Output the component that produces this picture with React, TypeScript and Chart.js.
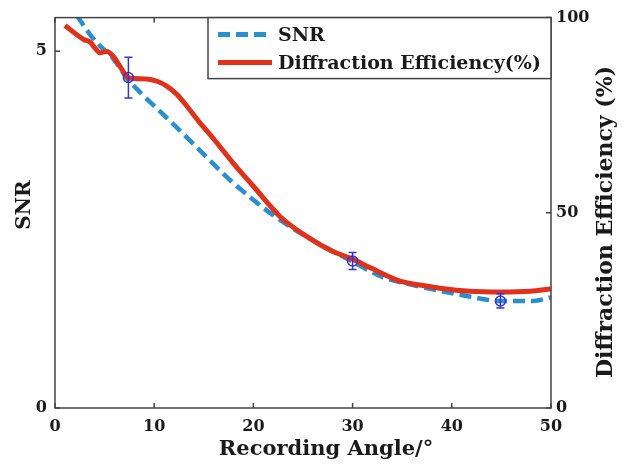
import React, { useEffect, useRef } from "react";
import { Chart, registerables } from "chart.js";
Chart.register(...registerables);

// ---- data ----
const snrAngles = [2.2, 3.5, 4.5, 5.9, 7.2, 8.6, 10.25, 11.9, 14.6, 17.6, 19.7, 22.0, 24.4, 26.0, 30, 33.1, 36.5, 38.8, 41.5, 44.9, 48.2, 50];
const snrValues = [5.5, 5.24, 5.08, 4.89, 4.63, 4.42, 4.2, 3.98, 3.61, 3.2, 2.95, 2.7, 2.48, 2.35, 2.05, 1.83, 1.71, 1.64, 1.57, 1.5, 1.5, 1.55];

const deAngles = [1.0, 2.9, 3.5, 4.2, 4.5, 5.2, 5.9, 6.6, 7.3, 7.9, 9.2, 10.3, 11.3, 12.3, 13.3, 14.6, 16.0, 18.0, 20.0, 22.7, 25.4, 27.7, 30.1, 31.8, 34.8, 36.8, 38.8, 41.8, 44.9, 47.9, 50];
const deValues = [98.0, 94.4, 93.8, 91.7, 91.0, 91.3, 90.0, 87.3, 84.8, 84.4, 84.3, 83.7, 82.4, 80.3, 77.3, 73.1, 68.9, 62.6, 56.8, 49.0, 43.9, 40.5, 38.0, 35.9, 32.5, 31.5, 30.7, 29.9, 29.7, 29.9, 30.5];

const errAngles = [7.4, 30, 44.9];
const errCenters = [4.63, 2.06, 1.5];
const errHalf = [0.285, 0.12, 0.1];

const xTicks = [0, 10, 20, 30, 40, 50];
const snrTicks = [0, 5];
const deTicks = [0, 50, 100];

const SNR_LABEL = "SNR";
const DE_LABEL = "Diffraction Efficiency(%)";
const X_TITLE = "Recording Angle/°";
const Y_TITLE = "SNR";
const Y1_TITLE = "Diffraction Efficiency (%)";

const BLUE = "#2a8fd0";
const RED = "#e0311b";
const ERR = "#3434d4";
const INK = "#1a1a1a";
const FRAME = "#444444";
const SERIF = "'DejaVu Serif', serif";

const decorPlugin = {
  id: "decor",
  afterDatasetsDraw(chart: any) {
    const { ctx, scales } = chart;
    const xs = scales.x, ys = scales.y;
    ctx.save();
    ctx.strokeStyle = ERR;
    ctx.lineWidth = 1.5;
    for (let i = 0; i < errAngles.length; i++) {
      const px = xs.getPixelForValue(errAngles[i]);
      const pc = ys.getPixelForValue(errCenters[i]);
      const pt = ys.getPixelForValue(errCenters[i] + errHalf[i]);
      const pb = ys.getPixelForValue(errCenters[i] - errHalf[i]);
      ctx.beginPath();
      ctx.moveTo(px, pt); ctx.lineTo(px, pb);
      ctx.moveTo(px - 4, pt); ctx.lineTo(px + 4, pt);
      ctx.moveTo(px - 4, pb); ctx.lineTo(px + 4, pb);
      ctx.stroke();
      ctx.beginPath();
      ctx.arc(px, pc, 5, 0, Math.PI * 2);
      ctx.stroke();
    }
    ctx.restore();
  },
  afterDraw(chart: any) {
    const { ctx, chartArea: a, scales } = chart;
    ctx.save();
    // frame
    ctx.strokeStyle = FRAME;
    ctx.lineWidth = 1.5;
    ctx.strokeRect(a.left, a.top, a.right - a.left, a.bottom - a.top);
    // inward ticks
    ctx.beginPath();
    const tl = 5;
    xTicks.forEach((v) => {
      const px = scales.x.getPixelForValue(v);
      ctx.moveTo(px, a.bottom); ctx.lineTo(px, a.bottom - tl);
      ctx.moveTo(px, a.top); ctx.lineTo(px, a.top + tl);
    });
    snrTicks.forEach((v) => {
      const py = scales.y.getPixelForValue(v);
      ctx.moveTo(a.left, py); ctx.lineTo(a.left + tl, py);
    });
    deTicks.forEach((v) => {
      const py = scales.y1.getPixelForValue(v);
      ctx.moveTo(a.right, py); ctx.lineTo(a.right - tl, py);
    });
    ctx.stroke();

    // legend
    const lx = 208, ly = a.top, lw = a.right - 208, lh = 61;
    ctx.fillStyle = "#ffffff";
    ctx.fillRect(lx, ly, lw, lh);
    ctx.strokeStyle = FRAME;
    ctx.lineWidth = 1.5;
    ctx.strokeRect(lx, ly, lw, lh);
    const items = [
      { label: SNR_LABEL, color: BLUE, dash: [12, 6], y: ly + 17 },
      { label: DE_LABEL, color: RED, dash: [], y: ly + 45 },
    ];
    items.forEach((it) => {
      ctx.beginPath();
      ctx.setLineDash(it.dash);
      ctx.strokeStyle = it.color;
      ctx.lineWidth = 5;
      ctx.moveTo(lx + 10, it.y);
      ctx.lineTo(lx + 64, it.y);
      ctx.stroke();
      ctx.setLineDash([]);
      ctx.fillStyle = INK;
      ctx.font = `bold 19px ${SERIF}`;
      ctx.textAlign = "left";
      ctx.textBaseline = "middle";
      ctx.fillText(it.label, lx + 70, it.y + 1);
    });

    // axis titles
    ctx.fillStyle = INK;
    ctx.textAlign = "center";
    ctx.textBaseline = "middle";
    ctx.font = `bold 21px ${SERIF}`;
    ctx.fillText(X_TITLE, 326, 450);

    ctx.save();
    ctx.translate(25, 205);
    ctx.rotate(-Math.PI / 2);
    ctx.font = `bold 20px ${SERIF}`;
    ctx.fillText(Y_TITLE, 0, 0);
    ctx.restore();

    ctx.save();
    ctx.translate(606, 222);
    ctx.rotate(-Math.PI / 2);
    ctx.font = `bold 22px ${SERIF}`;
    ctx.fillText(Y1_TITLE, 0, 0);
    ctx.restore();
    ctx.restore();
  },
};

export default function App() {
  const ref = useRef<HTMLCanvasElement | null>(null);
  useEffect(() => {
    if (!ref.current) return;
    const tickFont = { family: SERIF, size: 16, weight: "bold" };
    const chart = new Chart(ref.current, {
      type: "line",
      data: {
        datasets: [
          {
            label: SNR_LABEL,
            data: snrAngles.map((x, i) => ({ x, y: snrValues[i] })),
            yAxisID: "y",
            borderColor: BLUE,
            borderWidth: 4.5,
            borderDash: [12, 6],
            pointRadius: 0,
            cubicInterpolationMode: "monotone",
            fill: false,
            order: 1,
          },
          {
            label: DE_LABEL,
            data: deAngles.map((x, i) => ({ x, y: deValues[i] })),
            yAxisID: "y1",
            borderColor: RED,
            borderWidth: 5,
            pointRadius: 0,
            cubicInterpolationMode: "monotone",
            fill: false,
            order: 0,
          },
        ],
      },
      options: {
        responsive: false,
        animation: false,
        layout: { padding: { top: 14 } },
        plugins: { legend: { display: false }, tooltip: { enabled: false } },
        scales: {
          x: {
            type: "linear",
            min: 0,
            max: 50,
            afterBuildTicks: (s: any) => { s.ticks = xTicks.map((v) => ({ value: v })); },
            ticks: { font: tickFont, color: INK, padding: 9, maxRotation: 0 },
            grid: { display: false, drawTicks: false },
            border: { display: false },
            afterFit: (s: any) => { s.height = 58; },
          },
          y: {
            type: "linear",
            position: "left",
            min: 0,
            max: 5.47,
            afterBuildTicks: (s: any) => { s.ticks = snrTicks.map((v) => ({ value: v })); },
            ticks: { font: tickFont, color: INK, padding: 8 },
            grid: { display: false, drawTicks: false },
            border: { display: false },
            afterFit: (s: any) => { s.width = 55; },
          },
          y1: {
            type: "linear",
            position: "right",
            min: 0,
            max: 100,
            afterBuildTicks: (s: any) => { s.ticks = deTicks.map((v) => ({ value: v })); },
            ticks: { font: tickFont, color: INK, padding: 5 },
            grid: { display: false, drawTicks: false },
            border: { display: false },
            afterFit: (s: any) => { s.width = 73; },
          },
        },
      },
      plugins: [decorPlugin],
    } as any);
    return () => chart.destroy();
  }, []);
  return (
    <div style={{ position: "fixed", left: 0, top: 0, width: 624, height: 466, background: "#fff" }}>
      <canvas ref={ref} width={624} height={466} />
    </div>
  );
}
